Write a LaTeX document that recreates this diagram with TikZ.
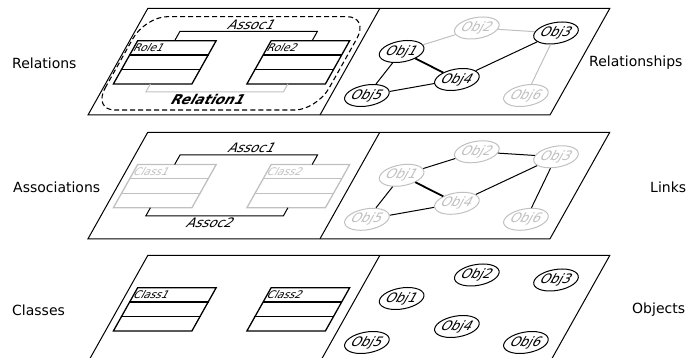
\documentclass[tikz,border=0pt]{standalone}
\usepackage{fontspec}
\setmainfont{DejaVu Sans}
\usetikzlibrary{shapes.geometric,calc}
\definecolor{lg}{RGB}{192,192,192}
\tikzset{
  plane/.style={draw=black, line width=1pt},
  obj/.style={ellipse, draw, line width=1pt, minimum width=40pt, minimum height=22pt,
    inner sep=0pt, transform shape, font=\fontsize{13}{13}\selectfont},
  gobj/.style={obj, draw=lg, text=lg},
  cbox/.style={rectangle, draw, line width=1.3pt, minimum width=78.5pt, minimum height=43.3pt,
    inner sep=0pt, transform shape},
  cline/.style={line width=1.3pt},
  ctitle/.style={inner sep=1.5pt, transform shape, font=\fontsize{10.5}{10.5}\selectfont},
  assoc/.style={line width=1pt},
  alab/.style={inner sep=1.5pt, transform shape, font=\fontsize{13}{13}\selectfont},
  lab/.style={inner sep=0pt, font=\fontsize{14}{14}\selectfont},
  link/.style={line width=1pt},
  tlink/.style={line width=1.8pt},
  glink/.style={line width=1pt, draw=lg},
  region/.style={line width=1.1pt, dash pattern=on 5pt off 3pt}
}
\newcommand\mkclass[4]{%
  \node[cbox, draw=#4] (#1) at (#2) {};
  \draw[cline, draw=#4] ($(#1.north west)!1/3!(#1.south west)$) -- ($(#1.north east)!1/3!(#1.south east)$);
  \draw[cline, draw=#4] ($(#1.north west)!2/3!(#1.south west)$) -- ($(#1.north east)!2/3!(#1.south east)$);
  \node[ctitle, text=#4, anchor=west] (#1t) at ($(#1.north west)!1/6!(#1.south west)$) {#3};
}
\newcommand\mkplane{%
  \draw[plane] (0,0) -- (462,0) -- (462,106.5) -- (0,106.5) -- cycle;
  \draw[plane] (232,0) -- (232,106.5);
}
\begin{document}
\begin{tikzpicture}[x=1pt,y=1pt]
\useasboundingbox (0,0) rectangle (688,358);
\clip (0,0) rectangle (688,358);

% outer labels
\node[lab, anchor=west] (lRel) at (12,295) {Relations};
\node[lab, anchor=west] (lRsh) at (589,295) {Relationships};
\node[lab, anchor=west] (lAss) at (13,171) {Associations};
\node[lab, anchor=west] (lLnk) at (650,171) {Links};
\node[lab, anchor=west] (lCls) at (12,48) {Classes};
\node[lab, anchor=west] (lObj) at (632,48) {Objects};

% ---------------- plane 1 : Relations / Relationships
\begin{scope}[shift={(88,243)}, xslant=0.561]
  \mkplane
  \mkclass{r1}{47.25,52.65}{Role1}{black}
  \mkclass{r2}{180.75,52.65}{Role2}{black}
  \coordinate (p1a) at (45,74.3);
  \coordinate (p1b) at (45,83.5);
  \coordinate (p1c) at (182.5,83.5);
  \coordinate (p1d) at (182.5,74.3);
  \draw[assoc] (p1a) -- (p1b) -- (p1c) -- (p1d);
  \node[alab, anchor=south] (as1) at ($(p1b)!0.5!(p1c)$) {Assoc1};
  \coordinate (q1a) at (45,31);
  \coordinate (q1b) at (45,23);
  \coordinate (q1c) at (182.5,23);
  \coordinate (q1d) at (182.5,31);
  \draw[assoc, draw=lg] (q1a) -- (q1b) -- (q1c) -- (q1d);
  \node[alab, font=\fontsize{13.5}{13.5}\selectfont\bfseries] (rel1) at (112,15.5) {Relation1};
  \draw[region] (2,27) -- (2,76.3) .. controls (2,88.45) and (11.85,98.3) .. (24,98.3)
     -- (204,98.3) .. controls (216.15,98.3) and (226,88.45) .. (226,76.3)
     -- (226,27) .. controls (226,14.85) and (216.15,5) .. (204,5)
     -- (24,5) .. controls (11.85,5) and (2,14.85) .. (2,27) -- cycle;
  \node[obj]  (a1) at (278,63.5) {Obj1};
  \node[gobj] (a2) at (340,87) {Obj2};
  \node[obj]  (a3) at (422,82) {Obj3};
  \node[obj]  (a4) at (349,35.5) {Obj4};
  \node[obj]  (a5) at (268,19.5) {Obj5};
  \node[gobj] (a6) at (427,19.5) {Obj6};
  \draw[glink] (a1) -- (a2);
  \draw[glink] (a2) -- (a3);
  \draw[glink] (a3) -- (a6);
  \draw[tlink] (a1) -- (a4);
  \draw[link] (a1) -- (a5);
  \draw[link] (a5) -- (a4);
  \draw[link] (a4) -- (a3);
\end{scope}

% ---------------- plane 2 : Associations / Links
\begin{scope}[shift={(88,119.2)}, xslant=0.561]
  \mkplane
  \mkclass{k1}{47.25,52.65}{Class1}{lg}
  \mkclass{k2}{180.75,52.65}{Class2}{lg}
  \coordinate (p2a) at (45,74.3);
  \coordinate (p2b) at (45,84);
  \coordinate (p2c) at (182.5,84);
  \coordinate (p2d) at (182.5,74.3);
  \draw[assoc] (p2a) -- (p2b) -- (p2c) -- (p2d);
  \node[alab, anchor=south] (as2a) at ($(p2b)!0.5!(p2c)$) {Assoc1};
  \coordinate (q2a) at (45,31);
  \coordinate (q2b) at (45,23);
  \coordinate (q2c) at (182.5,23);
  \coordinate (q2d) at (182.5,31);
  \draw[assoc] (q2a) -- (q2b) -- (q2c) -- (q2d);
  \node[alab, anchor=north] (as2b) at ($(q2b)!0.5!(q2c)$) {Assoc2};
  \node[gobj] (b1) at (278,63.5) {Obj1};
  \node[gobj] (b2) at (340,87) {Obj2};
  \node[gobj] (b3) at (422,82) {Obj3};
  \node[gobj] (b4) at (349,35.5) {Obj4};
  \node[gobj] (b5) at (268,19.5) {Obj5};
  \node[gobj] (b6) at (427,19.5) {Obj6};
  \draw[link] (b1) -- (b2);
  \draw[link] (b2) -- (b3);
  \draw[link] (b3) -- (b6);
  \draw[tlink] (b1) -- (b4);
  \draw[link] (b1) -- (b5);
  \draw[link] (b5) -- (b4);
  \draw[link] (b4) -- (b3);
\end{scope}

% ---------------- plane 3 : Classes / Objects
\begin{scope}[shift={(88,-4)}, xslant=0.561]
  \mkplane
  \mkclass{m1}{47.25,52.65}{Class1}{black}
  \mkclass{m2}{180.75,52.65}{Class2}{black}
  \node[obj] (c1) at (278,63.5) {Obj1};
  \node[obj] (c2) at (340,87) {Obj2};
  \node[obj] (c3) at (422,82) {Obj3};
  \node[obj] (c4) at (349,35.5) {Obj4};
  \node[obj] (c5) at (268,19.5) {Obj5};
  \node[obj] (c6) at (427,19.5) {Obj6};
\end{scope}
\end{tikzpicture}
\end{document}
